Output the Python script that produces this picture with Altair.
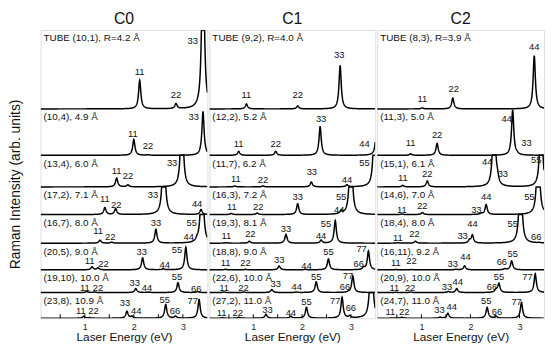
import altair as alt
import numpy as np
import pandas as pd

FONT = "Liberation Sans"

# ---------------- data ----------------
PANELS = ["C0", "C1", "C2"]

C0_TUBES = ["TUBE (10,1), R=4.2 Å", "(10,4), 4.9 Å", "(13,4), 6.0 Å", "(17,2), 7.1 Å",
            "(16,7), 8.0 Å", "(20,5), 9.0 Å", "(19,10), 10.0 Å", "(23,8), 10.9 Å"]
C1_TUBES = ["TUBE (9,2), R=4.0 Å", "(12,2), 5.2 Å", "(11,7), 6.2 Å", "(16,3), 7.2 Å",
            "(19,3), 8.1 Å", "(18,8), 9.0 Å", "(22,6), 10.0 Å", "(27,2), 11.0 Å"]
C2_TUBES = ["TUBE (8,3), R=3.9 Å", "(11,3), 5.0 Å", "(15,1), 6.1 Å", "(14,6), 7.0 Å",
            "(18,4), 8.0 Å", "(16,11), 9.2 Å", "(20,9), 10.0 Å", "(24,7), 11.0 Å"]

# (row, label, peak energy eV, peak intensity, label energy, label height)
C0_PEAKS = [
    (0, "11", 2.12, 29, 2.12, 37), (0, "22", 2.86, 5, 2.86, 14), (0, "33", 3.41, 200, 3.20, 69),
    (1, "11", 2.00, 16, 1.98, 22), (1, "22", 2.29, 0.5, 2.29, 9), (1, "33", 3.41, 44, 3.22, 39),
    (2, "11", 1.65, 9, 1.65, 16), (2, "22", 1.88, 2, 1.88, 11), (2, "33", 2.98, 100, 2.78, 24),
    (3, "11", 1.41, 7, 1.41, 16), (3, "22", 1.63, 6, 1.64, 10), (3, "33", 2.61, 100, 2.39, 20),
    (3, "44", 3.37, 5, 3.29, 11),
    (4, "11", 1.31, 3, 1.27, 12), (4, "22", 1.55, 1, 1.52, 6), (4, "33", 2.45, 14, 2.45, 20),
    (4, "44", 3.29, 2, 3.12, 6), (4, "55", 3.39, 100, 3.18, 20),
    (5, "11", 1.15, 3, 1.10, 9), (5, "22", 1.27, 2, 1.38, 6), (5, "33", 2.18, 12, 2.16, 18),
    (5, "44", 2.60, 1, 2.63, 5), (5, "55", 3.06, 23, 2.88, 20),
    (6, "11", 1.04, 1, 1.00, 5), (6, "22", 1.20, 0.5, 1.27, 5), (6, "33", 2.04, 4, 2.02, 10),
    (6, "44", 2.30, 0.5, 2.27, 5), (6, "55", 2.90, 10, 2.88, 16), (6, "66", 3.30, 1, 3.27, 4),
    (7, "11", 0.98, 2, 0.92, 7), (7, "22", 1.10, 0.5, 1.18, 7), (7, "33", 1.86, 7, 1.82, 15),
    (7, "44", 1.96, 2, 2.05, 7), (7, "55", 2.65, 14, 2.63, 18), (7, "66", 2.85, 2, 2.84, 7),
    (7, "77", 3.33, 19, 3.20, 17),
]
C1_PEAKS = [
    (0, "11", 0.86, 5, 0.86, 14), (0, "22", 1.91, 3, 1.91, 14), (0, "33", 2.78, 44, 2.76, 55),
    (1, "11", 0.70, 4, 0.70, 11), (1, "22", 1.46, 4, 1.46, 11), (1, "33", 2.37, 29, 2.39, 37),
    (1, "44", 3.53, 30, 3.28, 11),
    (2, "11", 0.62, 1, 0.64, 8), (2, "22", 1.20, 1, 1.20, 7), (2, "33", 2.19, 5, 2.20, 15),
    (2, "44", 2.92, 2, 2.92, 7), (2, "55", 3.49, 100, 3.28, 24),
    (3, "11", 0.55, 1, 0.56, 8), (3, "22", 1.08, 1.5, 1.10, 8), (3, "33", 1.91, 11, 1.91, 18),
    (3, "44", 2.80, 3, 2.76, 5), (3, "55", 3.00, 100, 2.80, 18),
    (4, "11", 0.45, 0.5, 0.45, 7), (4, "22", 0.92, 2, 0.94, 9), (4, "33", 1.67, 9, 1.67, 14),
    (4, "44", 2.39, 3, 2.39, 7), (4, "55", 2.68, 23, 2.49, 19),
    (5, "11", 0.43, 0.5, 0.43, 7), (5, "22", 0.84, 0.5, 0.84, 7), (5, "33", 1.53, 4, 1.53, 10),
    (5, "44", 2.07, 0.5, 2.09, 4), (5, "55", 2.54, 11, 2.54, 18), (5, "66", 3.26, 2, 3.16, 6),
    (5, "77", 3.36, 19, 3.22, 21),
    (6, "11", 0.40, 0.5, 0.40, 5), (6, "22", 0.80, 0.5, 0.80, 5), (6, "33", 1.38, 3, 1.46, 9),
    (6, "44", 1.88, 0.5, 1.89, 6), (6, "55", 2.29, 11, 2.29, 16), (6, "66", 2.95, 0.5, 2.88, 6),
    (6, "77", 3.04, 17, 2.94, 17),
    (7, "11", 0.37, 0.5, 0.35, 5), (7, "22", 0.70, 1, 0.68, 5), (7, "33", 1.26, 4, 1.29, 8),
    (7, "44", 1.77, 2, 1.77, 5), (7, "55", 2.09, 11, 2.09, 16), (7, "77", 2.82, 21, 2.68, 17),
    (7, "66", 2.98, 2, 3.00, 10), (7, "", 3.42, 100, None, None),
]
C2_PEAKS = [
    (0, "11", 1.02, 1, 1.02, 10), (0, "22", 1.64, 11, 1.66, 20), (0, "44", 3.30, 54, 3.30, 63),
    (1, "11", 0.78, 1.5, 0.78, 12), (1, "22", 1.32, 12, 1.32, 21), (1, "44", 2.86, 46, 2.74, 37),
    (1, "33", 2.95, 1, 3.14, 12),
    (2, "11", 0.62, 1.5, 0.62, 9), (2, "22", 1.12, 6, 1.12, 13), (2, "44", 2.48, 100, 2.34, 25),
    (2, "33", 2.55, 6, 2.66, 13), (2, "55", 3.44, 100, 3.34, 27),
    (3, "11", 0.60, 0.5, 0.60, 5), (3, "22", 1.02, 2, 1.02, 9), (3, "33", 2.22, 1, 2.12, 5),
    (3, "44", 2.32, 10, 2.32, 18), (3, "55", 3.38, 100, 3.20, 18),
    (4, "11", 0.52, 0.5, 0.52, 5), (4, "22", 0.88, 2, 0.86, 9), (4, "33", 1.98, 3, 1.84, 7),
    (4, "44", 2.04, 8, 2.04, 19), (4, "55", 3.02, 100, 2.86, 19), (4, "66", 3.40, 0.5, 3.34, 6),
    (5, "11", 0.48, 0.3, 0.48, 7), (5, "22", 0.80, 0.3, 0.80, 9), (5, "33", 1.70, 0.5, 1.64, 6),
    (5, "44", 1.88, 4, 1.90, 13), (5, "66", 2.70, 1, 2.64, 8), (5, "55", 2.84, 9, 2.86, 16),
    (6, "11", 0.48, 0.3, 0.45, 5), (6, "22", 0.78, 0.5, 0.77, 5), (6, "33", 1.55, 1, 1.52, 6),
    (6, "44", 1.72, 4, 1.74, 11), (6, "66", 2.52, 3, 2.44, 6), (6, "55", 2.58, 9, 2.58, 16),
    (6, "77", 3.32, 19, 3.16, 16),
    (7, "11", 0.40, 0.3, 0.37, 6), (7, "22", 0.60, 1, 0.65, 6), (7, "33", 1.38, 1, 1.37, 8),
    (7, "44", 1.54, 5, 1.62, 11), (7, "55", 2.34, 11, 2.32, 17), (7, "66", 2.52, 2, 2.54, 6),
    (7, "77", 3.04, 16, 2.94, 16),
]

X_TICK_LABELS = [1, 2, 3]
X_TICKS = [0.5, 1.0, 1.5, 2.0, 2.5, 3.0]

# ---------------- layout ----------------
E_MIN, E_MAX = 0.1, 3.5
PANEL_H = 292
ROW_BASE = [212, 165, 133, 105, 76, 49, 26, 0]
ROW_TOP = [292, 212, 165, 133, 105, 76, 49, 26]
GAMMA = 0.027
GRID = np.round(np.arange(E_MIN, E_MAX + 1e-9, 0.004), 4)


def curve_frame(peaks):
    frames = []
    for r in range(8):
        s = np.zeros_like(GRID)
        for (row, lab, e0, h, le, lh) in peaks:
            if row == r:
                s += h * GAMMA ** 2 / ((GRID - e0) ** 2 + GAMMA ** 2)
        y = np.minimum(ROW_BASE[r] + s, ROW_TOP[r])
        frames.append(pd.DataFrame({"row": r, "E": GRID, "y": np.round(y, 2)}))
    return pd.concat(frames, ignore_index=True)


def label_frame(peaks):
    recs = [{"E": le, "y": ROW_BASE[row] + lh, "t": lab}
            for (row, lab, e0, h, le, lh) in peaks if lab]
    return pd.DataFrame(recs)


def panel(name, tubes, peaks, width, first):
    xs = alt.Scale(domain=[E_MIN, E_MAX], nice=False, zero=False)
    ys = alt.Scale(domain=[0, PANEL_H], nice=False, zero=False)
    xaxis = alt.Axis(values=X_TICK_LABELS, format="d", ticks=False, domain=False, grid=False,
                     labelFontSize=9, labelFont=FONT, labelColor="#222", labelPadding=4,
                     title="Laser Energy (eV)", titleFont=FONT, titleFontSize=12,
                     titleFontWeight="normal", titleColor="#111", titlePadding=1)
    if first:
        yaxis = alt.Axis(labels=False, ticks=False, domain=False, grid=False,
                         title="Raman Intensity (arb. units)", titleFont=FONT, titleFontSize=14,
                         titleFontWeight="normal", titleColor="#111",
                         titleX=-18, titleY=156)
    else:
        yaxis = None
    X = alt.X("E:Q", scale=xs, axis=xaxis)
    Y = alt.Y("y:Q", scale=ys, axis=yaxis)

    cdf = curve_frame(peaks)
    ldf = label_frame(peaks)
    rdf = pd.DataFrame({"E": E_MIN, "y": [ROW_TOP[r] - 8.5 for r in range(8)], "t": tubes})
    tdf = pd.DataFrame({"E": X_TICKS, "y": 0, "y2": 4})

    lines = alt.Chart(cdf).mark_line(color="black", strokeWidth=1.5, clip=True).encode(
        x=X, y=Y, detail="row:N")
    ticks = alt.Chart(tdf).mark_rule(color="black", strokeWidth=1).encode(
        x=X, y=Y, y2="y2:Q")
    plabels = alt.Chart(ldf).mark_text(font=FONT, fontSize=9.5, color="#111",
                                       baseline="middle").encode(x=X, y=Y, text="t:N")
    rlabels = alt.Chart(rdf).mark_text(font=FONT, fontSize=10, color="#111", align="left",
                                       baseline="middle", dx=3).encode(x=X, y=Y, text="t:N")
    return alt.layer(lines, ticks, plabels, rlabels).properties(
        width=width, height=PANEL_H,
        title=alt.TitleParams(name, font=FONT, fontSize=16, fontWeight="normal",
                              color="#111", offset=3))


chart = alt.hconcat(
    panel(PANELS[0], C0_TUBES, C0_PEAKS, 169, True),
    panel(PANELS[1], C1_TUBES, C1_PEAKS, 168, False),
    panel(PANELS[2], C2_TUBES, C2_PEAKS, 169, False),
    spacing=0,
).properties(
    padding={"left": 0, "top": 0, "right": 4, "bottom": 4}
).configure_view(stroke="black", strokeWidth=1.2).configure(background="white")

chart.save("out.html", embed_options={"renderer": "svg", "actions": False})
